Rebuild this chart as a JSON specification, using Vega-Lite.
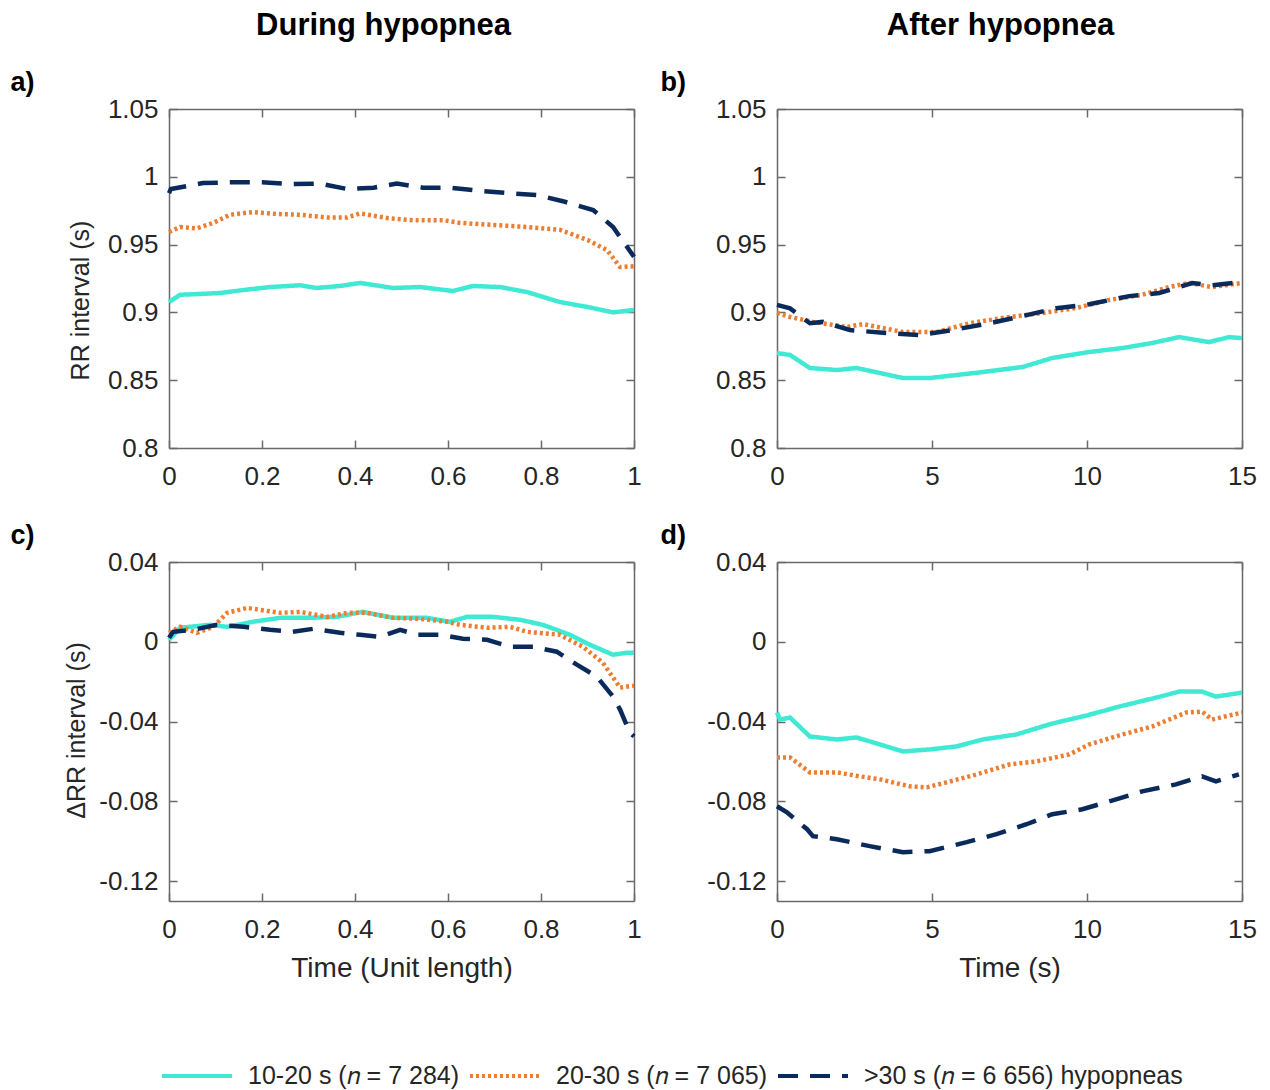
{
  "$schema": "https://vega.github.io/schema/vega-lite/v6.json",
  "padding": {"left": 10, "top": 10, "right": 10, "bottom": 2},
  "background": "white",
  "config": {
    "font": "Liberation Sans",
    "view": {"stroke": null},
    "axis": {
      "grid": false, "domainColor": "#6a6a6a", "tickColor": "#6a6a6a", "domainWidth": 1.5, "tickWidth": 1.5,
      "tickSize": -8, "labelFont": "Liberation Sans", "labelFontSize": 26, "labelColor": "#262626",
      "titleFont": "Liberation Sans", "titleFontSize": 28, "titleFontWeight": "normal", "titleColor": "#262626",
      "labelOverlap": false, "labelFlush": false
    },
    "axisBottom": {"labelPadding": 23},
    "axisLeft": {"labelPadding": 19, "titleFontSize": 25},
    "title": {"font": "Liberation Sans", "fontSize": 31, "fontWeight": "bold", "color": "#000000", "anchor": "middle"},
    "legend": {
      "orient": "none", "legendX": -9, "legendY": 930, "direction": "horizontal", "title": null,
      "symbolType": "stroke", "symbolSize": 4900, "symbolStrokeWidth": 4, "labelFont": "Liberation Sans",
      "labelFontSize": 25, "labelColor": "#262626", "labelOffset": 14, "columnPadding": 2, "labelLimit": 600
    }
  },
  "data": {"values": [
    {"p":"a","s":"A","x":0,"y":0.9077},{"p":"a","s":"A","x":0.024,"y":0.913},{"p":"a","s":"A","x":0.06,"y":0.9135},{"p":"a","s":"A","x":0.11,"y":0.9143},{"p":"a","s":"A","x":0.16,"y":0.9165},{"p":"a","s":"A","x":0.217,"y":0.9187},{"p":"a","s":"A","x":0.282,"y":0.92},{"p":"a","s":"A","x":0.318,"y":0.918},{"p":"a","s":"A","x":0.368,"y":0.9195},{"p":"a","s":"A","x":0.411,"y":0.9217},{"p":"a","s":"A","x":0.482,"y":0.918},{"p":"a","s":"A","x":0.54,"y":0.9187},{"p":"a","s":"A","x":0.61,"y":0.9158},{"p":"a","s":"A","x":0.654,"y":0.9195},{"p":"a","s":"A","x":0.712,"y":0.9187},{"p":"a","s":"A","x":0.77,"y":0.915},{"p":"a","s":"A","x":0.84,"y":0.9077},{"p":"a","s":"A","x":0.9,"y":0.904},{"p":"a","s":"A","x":0.955,"y":0.9},{"p":"a","s":"A","x":1,"y":0.9018},
    {"p":"a","s":"B","x":0,"y":0.9593},{"p":"a","s":"B","x":0.024,"y":0.963},{"p":"a","s":"B","x":0.06,"y":0.962},{"p":"a","s":"B","x":0.095,"y":0.966},{"p":"a","s":"B","x":0.131,"y":0.972},{"p":"a","s":"B","x":0.18,"y":0.974},{"p":"a","s":"B","x":0.232,"y":0.9726},{"p":"a","s":"B","x":0.282,"y":0.972},{"p":"a","s":"B","x":0.34,"y":0.97},{"p":"a","s":"B","x":0.383,"y":0.97},{"p":"a","s":"B","x":0.411,"y":0.973},{"p":"a","s":"B","x":0.469,"y":0.9696},{"p":"a","s":"B","x":0.525,"y":0.968},{"p":"a","s":"B","x":0.589,"y":0.968},{"p":"a","s":"B","x":0.626,"y":0.966},{"p":"a","s":"B","x":0.697,"y":0.9645},{"p":"a","s":"B","x":0.77,"y":0.963},{"p":"a","s":"B","x":0.84,"y":0.961},{"p":"a","s":"B","x":0.9,"y":0.9534},{"p":"a","s":"B","x":0.942,"y":0.946},{"p":"a","s":"B","x":0.97,"y":0.9335},{"p":"a","s":"B","x":1,"y":0.934},
    {"p":"a","s":"C","x":0,"y":0.988},{"p":"a","s":"C","x":0.004,"y":0.991},{"p":"a","s":"C","x":0.073,"y":0.9954},{"p":"a","s":"C","x":0.138,"y":0.996},{"p":"a","s":"C","x":0.2,"y":0.996},{"p":"a","s":"C","x":0.262,"y":0.9947},{"p":"a","s":"C","x":0.325,"y":0.995},{"p":"a","s":"C","x":0.383,"y":0.991},{"p":"a","s":"C","x":0.44,"y":0.992},{"p":"a","s":"C","x":0.49,"y":0.995},{"p":"a","s":"C","x":0.546,"y":0.992},{"p":"a","s":"C","x":0.604,"y":0.992},{"p":"a","s":"C","x":0.668,"y":0.9896},{"p":"a","s":"C","x":0.727,"y":0.988},{"p":"a","s":"C","x":0.791,"y":0.9866},{"p":"a","s":"C","x":0.847,"y":0.982},{"p":"a","s":"C","x":0.912,"y":0.9755},{"p":"a","s":"C","x":0.955,"y":0.963},{"p":"a","s":"C","x":0.97,"y":0.9556},{"p":"a","s":"C","x":1,"y":0.941},
    {"p":"b","s":"A","x":0,"y":0.87},{"p":"b","s":"A","x":0.42,"y":0.8686},{"p":"b","s":"A","x":1.06,"y":0.859},{"p":"b","s":"A","x":1.93,"y":0.8575},{"p":"b","s":"A","x":2.57,"y":0.859},{"p":"b","s":"A","x":3.32,"y":0.8553},{"p":"b","s":"A","x":4.06,"y":0.8516},{"p":"b","s":"A","x":4.92,"y":0.8516},{"p":"b","s":"A","x":5.79,"y":0.8538},{"p":"b","s":"A","x":6.63,"y":0.856},{"p":"b","s":"A","x":7.92,"y":0.8597},{"p":"b","s":"A","x":8.88,"y":0.8664},{"p":"b","s":"A","x":10.07,"y":0.8708},{"p":"b","s":"A","x":11.14,"y":0.8737},{"p":"b","s":"A","x":12.1,"y":0.8774},{"p":"b","s":"A","x":12.97,"y":0.8818},{"p":"b","s":"A","x":13.94,"y":0.8781},{"p":"b","s":"A","x":14.58,"y":0.8818},{"p":"b","s":"A","x":15,"y":0.881},
    {"p":"b","s":"B","x":0,"y":0.8996},{"p":"b","s":"B","x":0.42,"y":0.8966},{"p":"b","s":"B","x":1.16,"y":0.893},{"p":"b","s":"B","x":2.25,"y":0.8892},{"p":"b","s":"B","x":2.77,"y":0.8914},{"p":"b","s":"B","x":4.06,"y":0.8855},{"p":"b","s":"B","x":5.15,"y":0.8855},{"p":"b","s":"B","x":6.21,"y":0.892},{"p":"b","s":"B","x":7.27,"y":0.8959},{"p":"b","s":"B","x":8.56,"y":0.8996},{"p":"b","s":"B","x":9.66,"y":0.9033},{"p":"b","s":"B","x":10.72,"y":0.9092},{"p":"b","s":"B","x":11.78,"y":0.913},{"p":"b","s":"B","x":12.65,"y":0.9187},{"p":"b","s":"B","x":13.29,"y":0.9217},{"p":"b","s":"B","x":14.03,"y":0.9187},{"p":"b","s":"B","x":15,"y":0.9217},
    {"p":"b","s":"C","x":0,"y":0.9055},{"p":"b","s":"C","x":0.42,"y":0.903},{"p":"b","s":"C","x":1.06,"y":0.892},{"p":"b","s":"C","x":1.48,"y":0.893},{"p":"b","s":"C","x":2.35,"y":0.887},{"p":"b","s":"C","x":3.41,"y":0.885},{"p":"b","s":"C","x":4.6,"y":0.8833},{"p":"b","s":"C","x":5.66,"y":0.887},{"p":"b","s":"C","x":6.86,"y":0.892},{"p":"b","s":"C","x":8.05,"y":0.898},{"p":"b","s":"C","x":9.01,"y":0.903},{"p":"b","s":"C","x":10.07,"y":0.906},{"p":"b","s":"C","x":11.36,"y":0.912},{"p":"b","s":"C","x":12.33,"y":0.9143},{"p":"b","s":"C","x":13.39,"y":0.9217},{"p":"b","s":"C","x":14.03,"y":0.92},{"p":"b","s":"C","x":15,"y":0.9224},
    {"p":"c","s":"A","x":0,"y":0.001},{"p":"c","s":"A","x":0.024,"y":0.007},{"p":"c","s":"A","x":0.088,"y":0.0085},{"p":"c","s":"A","x":0.125,"y":0.0075},{"p":"c","s":"A","x":0.18,"y":0.01},{"p":"c","s":"A","x":0.239,"y":0.012},{"p":"c","s":"A","x":0.303,"y":0.012},{"p":"c","s":"A","x":0.361,"y":0.0125},{"p":"c","s":"A","x":0.417,"y":0.015},{"p":"c","s":"A","x":0.482,"y":0.012},{"p":"c","s":"A","x":0.555,"y":0.012},{"p":"c","s":"A","x":0.604,"y":0.01},{"p":"c","s":"A","x":0.641,"y":0.0125},{"p":"c","s":"A","x":0.697,"y":0.0125},{"p":"c","s":"A","x":0.755,"y":0.011},{"p":"c","s":"A","x":0.804,"y":0.0085},{"p":"c","s":"A","x":0.862,"y":0.0035},{"p":"c","s":"A","x":0.905,"y":-0.0015},{"p":"c","s":"A","x":0.955,"y":-0.0065},{"p":"c","s":"A","x":0.985,"y":-0.0055},{"p":"c","s":"A","x":1,"y":-0.0055},
    {"p":"c","s":"B","x":0,"y":0.0045},{"p":"c","s":"B","x":0.024,"y":0.0075},{"p":"c","s":"B","x":0.06,"y":0.0045},{"p":"c","s":"B","x":0.095,"y":0.0075},{"p":"c","s":"B","x":0.125,"y":0.0145},{"p":"c","s":"B","x":0.168,"y":0.017},{"p":"c","s":"B","x":0.196,"y":0.016},{"p":"c","s":"B","x":0.239,"y":0.0145},{"p":"c","s":"B","x":0.282,"y":0.015},{"p":"c","s":"B","x":0.34,"y":0.0125},{"p":"c","s":"B","x":0.383,"y":0.0145},{"p":"c","s":"B","x":0.426,"y":0.0145},{"p":"c","s":"B","x":0.482,"y":0.012},{"p":"c","s":"B","x":0.54,"y":0.0115},{"p":"c","s":"B","x":0.598,"y":0.01},{"p":"c","s":"B","x":0.626,"y":0.0085},{"p":"c","s":"B","x":0.684,"y":0.007},{"p":"c","s":"B","x":0.733,"y":0.0075},{"p":"c","s":"B","x":0.77,"y":0.005},{"p":"c","s":"B","x":0.84,"y":0.0035},{"p":"c","s":"B","x":0.89,"y":-0.0025},{"p":"c","s":"B","x":0.933,"y":-0.0105},{"p":"c","s":"B","x":0.97,"y":-0.023},{"p":"c","s":"B","x":1,"y":-0.022},
    {"p":"c","s":"C","x":0,"y":0.002},{"p":"c","s":"C","x":0.009,"y":0.005},{"p":"c","s":"C","x":0.052,"y":0.006},{"p":"c","s":"C","x":0.103,"y":0.0085},{"p":"c","s":"C","x":0.16,"y":0.0075},{"p":"c","s":"C","x":0.217,"y":0.006},{"p":"c","s":"C","x":0.266,"y":0.005},{"p":"c","s":"C","x":0.31,"y":0.0065},{"p":"c","s":"C","x":0.368,"y":0.0045},{"p":"c","s":"C","x":0.411,"y":0.0035},{"p":"c","s":"C","x":0.454,"y":0.0025},{"p":"c","s":"C","x":0.497,"y":0.006},{"p":"c","s":"C","x":0.533,"y":0.0035},{"p":"c","s":"C","x":0.583,"y":0.0035},{"p":"c","s":"C","x":0.632,"y":0.0015},{"p":"c","s":"C","x":0.684,"y":0.001},{"p":"c","s":"C","x":0.733,"y":-0.0025},{"p":"c","s":"C","x":0.783,"y":-0.0025},{"p":"c","s":"C","x":0.834,"y":-0.005},{"p":"c","s":"C","x":0.877,"y":-0.0115},{"p":"c","s":"C","x":0.92,"y":-0.0175},{"p":"c","s":"C","x":0.955,"y":-0.0275},{"p":"c","s":"C","x":0.97,"y":-0.034},{"p":"c","s":"C","x":0.991,"y":-0.0455},{"p":"c","s":"C","x":1,"y":-0.0475},
    {"p":"d","s":"A","x":0,"y":-0.0355},{"p":"d","s":"A","x":0.1,"y":-0.039},{"p":"d","s":"A","x":0.42,"y":-0.038},{"p":"d","s":"A","x":1.06,"y":-0.0475},{"p":"d","s":"A","x":1.93,"y":-0.049},{"p":"d","s":"A","x":2.57,"y":-0.048},{"p":"d","s":"A","x":3.32,"y":-0.0515},{"p":"d","s":"A","x":4.06,"y":-0.055},{"p":"d","s":"A","x":4.92,"y":-0.054},{"p":"d","s":"A","x":5.79,"y":-0.0525},{"p":"d","s":"A","x":6.63,"y":-0.049},{"p":"d","s":"A","x":7.72,"y":-0.0465},{"p":"d","s":"A","x":8.88,"y":-0.041},{"p":"d","s":"A","x":9.98,"y":-0.037},{"p":"d","s":"A","x":11.04,"y":-0.0325},{"p":"d","s":"A","x":12.1,"y":-0.0285},{"p":"d","s":"A","x":12.97,"y":-0.025},{"p":"d","s":"A","x":13.71,"y":-0.025},{"p":"d","s":"A","x":14.16,"y":-0.0275},{"p":"d","s":"A","x":15,"y":-0.0255},
    {"p":"d","s":"B","x":0,"y":-0.058},{"p":"d","s":"B","x":0.42,"y":-0.058},{"p":"d","s":"B","x":1.06,"y":-0.0655},{"p":"d","s":"B","x":1.93,"y":-0.0655},{"p":"d","s":"B","x":2.67,"y":-0.0675},{"p":"d","s":"B","x":3.32,"y":-0.069},{"p":"d","s":"B","x":4.28,"y":-0.0725},{"p":"d","s":"B","x":4.83,"y":-0.073},{"p":"d","s":"B","x":5.47,"y":-0.0705},{"p":"d","s":"B","x":6.44,"y":-0.0665},{"p":"d","s":"B","x":7.5,"y":-0.0615},{"p":"d","s":"B","x":8.37,"y":-0.06},{"p":"d","s":"B","x":9.43,"y":-0.0565},{"p":"d","s":"B","x":10.07,"y":-0.0515},{"p":"d","s":"B","x":11.14,"y":-0.0465},{"p":"d","s":"B","x":12.1,"y":-0.0425},{"p":"d","s":"B","x":13.2,"y":-0.0355},{"p":"d","s":"B","x":13.71,"y":-0.035},{"p":"d","s":"B","x":14.03,"y":-0.039},{"p":"d","s":"B","x":15,"y":-0.0355},
    {"p":"d","s":"C","x":0,"y":-0.0825},{"p":"d","s":"C","x":0.32,"y":-0.0855},{"p":"d","s":"C","x":0.97,"y":-0.094},{"p":"d","s":"C","x":1.16,"y":-0.0975},{"p":"d","s":"C","x":1.93,"y":-0.099},{"p":"d","s":"C","x":2.99,"y":-0.1025},{"p":"d","s":"C","x":4.06,"y":-0.1055},{"p":"d","s":"C","x":4.92,"y":-0.105},{"p":"d","s":"C","x":6.12,"y":-0.1005},{"p":"d","s":"C","x":7.08,"y":-0.0965},{"p":"d","s":"C","x":8.05,"y":-0.0915},{"p":"d","s":"C","x":8.88,"y":-0.0865},{"p":"d","s":"C","x":9.85,"y":-0.084},{"p":"d","s":"C","x":10.94,"y":-0.079},{"p":"d","s":"C","x":11.78,"y":-0.075},{"p":"d","s":"C","x":12.87,"y":-0.0715},{"p":"d","s":"C","x":13.71,"y":-0.0675},{"p":"d","s":"C","x":14.16,"y":-0.07},{"p":"d","s":"C","x":14.9,"y":-0.0665}
  ]},
  "columns": 2,
  "spacing": {"row": 114, "column": 143},
  "bounds": "flush",
  "resolve": {"scale": {"color": "shared", "strokeDash": "shared"}, "legend": {"color": "shared", "strokeDash": "shared"}},
  "concat": [
    {
      "width": 465, "height": 339,
      "title": {"text": "During hypopnea", "dx": -18, "offset": 26},
      "transform": [{"filter": "datum.p === 'a'"}],
      "layer": [
        {"mark": {"type": "line", "strokeWidth": 4.5},
         "encoding": {
           "x": {"field": "x", "type": "quantitative", "scale": {"domain": [0, 1], "nice": false, "zero": false}, "axis": {"orient": "bottom", "values": [0, 0.2, 0.4, 0.6, 0.8, 1], "labelExpr": "'' + datum.value", "title": null}},
           "y": {"field": "y", "type": "quantitative", "scale": {"domain": [0.8, 1.05], "nice": false, "zero": false}, "axis": {"orient": "left", "values": [0.8, 0.85, 0.9, 0.95, 1, 1.05], "labelExpr": "'' + datum.value", "title": "RR interval (s)", "titleX": -89, "titleY": 191, "titleBaseline": "middle", "titleAngle": -90}},
           "color": {"field": "s", "type": "nominal", "scale": {"domain": ["A", "B", "C"], "range": ["#3FE9D3", "#ED7D31", "#0B2A5C"]}, "legend": {"labelExpr": "datum.label === 'A' ? '10-20 s (𝑛 = 7 284)' : datum.label === 'B' ? '20-30 s (𝑛 = 7 065)' : '>30 s (𝑛 = 6 656) hypopneas'"}},
           "strokeDash": {"field": "s", "type": "nominal", "scale": {"domain": ["A", "B", "C"], "range": [[1, 0], [3, 3], [20, 12]]}, "legend": {"labelExpr": "datum.label === 'A' ? '10-20 s (𝑛 = 7 284)' : datum.label === 'B' ? '20-30 s (𝑛 = 7 065)' : '>30 s (𝑛 = 6 656) hypopneas'"}}
         }},
        {"mark": {"type": "point", "opacity": 0},
         "encoding": {
           "x": {"field": "x", "type": "quantitative", "axis": {"orient": "top", "values": [0, 0.2, 0.4, 0.6, 0.8, 1], "labels": false, "title": "a)", "titleX": -159, "titleY": -27, "titleAlign": "left", "titleBaseline": "middle", "titleAngle": 0, "titleFontSize": 27, "titleFontWeight": "bold", "titleColor": "#000000"}},
           "y": {"field": "y", "type": "quantitative", "axis": {"orient": "right", "values": [0.8, 0.85, 0.9, 0.95, 1, 1.05], "labels": false, "title": null}}
         }}
      ],
      "resolve": {"axis": {"x": "independent", "y": "independent"}}
    },
    {
      "width": 465, "height": 339,
      "title": {"text": "After hypopnea", "dx": -9, "offset": 26},
      "transform": [{"filter": "datum.p === 'b'"}],
      "layer": [
        {"mark": {"type": "line", "strokeWidth": 4.5},
         "encoding": {
           "x": {"field": "x", "type": "quantitative", "scale": {"domain": [0, 15], "nice": false, "zero": false}, "axis": {"orient": "bottom", "values": [0, 5, 10, 15], "title": null}},
           "y": {"field": "y", "type": "quantitative", "scale": {"domain": [0.8, 1.05], "nice": false, "zero": false}, "axis": {"orient": "left", "values": [0.8, 0.85, 0.9, 0.95, 1, 1.05], "labelExpr": "'' + datum.value", "title": null}},
           "color": {"field": "s", "type": "nominal", "scale": {"domain": ["A", "B", "C"], "range": ["#3FE9D3", "#ED7D31", "#0B2A5C"]}},
           "strokeDash": {"field": "s", "type": "nominal", "scale": {"domain": ["A", "B", "C"], "range": [[1, 0], [3, 3], [20, 12]]}}
         }},
        {"mark": {"type": "point", "opacity": 0},
         "encoding": {
           "x": {"field": "x", "type": "quantitative", "axis": {"orient": "top", "values": [0, 5, 10, 15], "labels": false, "title": "b)", "titleX": -117, "titleY": -27, "titleAlign": "left", "titleBaseline": "middle", "titleAngle": 0, "titleFontSize": 27, "titleFontWeight": "bold", "titleColor": "#000000"}},
           "y": {"field": "y", "type": "quantitative", "axis": {"orient": "right", "values": [0.8, 0.85, 0.9, 0.95, 1, 1.05], "labels": false, "title": null}}
         }}
      ],
      "resolve": {"axis": {"x": "independent", "y": "independent"}}
    },
    {
      "width": 465, "height": 339,
      "transform": [{"filter": "datum.p === 'c'"}],
      "layer": [
        {"mark": {"type": "line", "strokeWidth": 4.5},
         "encoding": {
           "x": {"field": "x", "type": "quantitative", "scale": {"domain": [0, 1], "nice": false, "zero": false}, "axis": {"orient": "bottom", "values": [0, 0.2, 0.4, 0.6, 0.8, 1], "labelExpr": "'' + datum.value", "title": "Time (Unit length)", "titleY": 53, "titleBaseline": "top"}},
           "y": {"field": "y", "type": "quantitative", "scale": {"domain": [-0.13, 0.04], "nice": false, "zero": false}, "axis": {"orient": "left", "values": [-0.12, -0.08, -0.04, 0, 0.04], "labelExpr": "'' + datum.value", "title": "ΔRR interval (s)", "titleX": -93, "titleY": 168, "titleBaseline": "middle", "titleAngle": -90}},
           "color": {"field": "s", "type": "nominal", "scale": {"domain": ["A", "B", "C"], "range": ["#3FE9D3", "#ED7D31", "#0B2A5C"]}},
           "strokeDash": {"field": "s", "type": "nominal", "scale": {"domain": ["A", "B", "C"], "range": [[1, 0], [3, 3], [20, 12]]}}
         }},
        {"mark": {"type": "point", "opacity": 0},
         "encoding": {
           "x": {"field": "x", "type": "quantitative", "axis": {"orient": "top", "values": [0, 0.2, 0.4, 0.6, 0.8, 1], "labels": false, "title": "c)", "titleX": -159, "titleY": -27, "titleAlign": "left", "titleBaseline": "middle", "titleAngle": 0, "titleFontSize": 27, "titleFontWeight": "bold", "titleColor": "#000000"}},
           "y": {"field": "y", "type": "quantitative", "axis": {"orient": "right", "values": [-0.12, -0.08, -0.04, 0, 0.04], "labels": false, "title": null}}
         }}
      ],
      "resolve": {"axis": {"x": "independent", "y": "independent"}}
    },
    {
      "width": 465, "height": 339,
      "transform": [{"filter": "datum.p === 'd'"}],
      "layer": [
        {"mark": {"type": "line", "strokeWidth": 4.5},
         "encoding": {
           "x": {"field": "x", "type": "quantitative", "scale": {"domain": [0, 15], "nice": false, "zero": false}, "axis": {"orient": "bottom", "values": [0, 5, 10, 15], "title": "Time (s)", "titleY": 53, "titleBaseline": "top"}},
           "y": {"field": "y", "type": "quantitative", "scale": {"domain": [-0.13, 0.04], "nice": false, "zero": false}, "axis": {"orient": "left", "values": [-0.12, -0.08, -0.04, 0, 0.04], "labelExpr": "'' + datum.value", "title": null}},
           "color": {"field": "s", "type": "nominal", "scale": {"domain": ["A", "B", "C"], "range": ["#3FE9D3", "#ED7D31", "#0B2A5C"]}},
           "strokeDash": {"field": "s", "type": "nominal", "scale": {"domain": ["A", "B", "C"], "range": [[1, 0], [3, 3], [20, 12]]}}
         }},
        {"mark": {"type": "point", "opacity": 0},
         "encoding": {
           "x": {"field": "x", "type": "quantitative", "axis": {"orient": "top", "values": [0, 5, 10, 15], "labels": false, "title": "d)", "titleX": -117, "titleY": -27, "titleAlign": "left", "titleBaseline": "middle", "titleAngle": 0, "titleFontSize": 27, "titleFontWeight": "bold", "titleColor": "#000000"}},
           "y": {"field": "y", "type": "quantitative", "axis": {"orient": "right", "values": [-0.12, -0.08, -0.04, 0, 0.04], "labels": false, "title": null}}
         }}
      ],
      "resolve": {"axis": {"x": "independent", "y": "independent"}}
    }
  ]
}
